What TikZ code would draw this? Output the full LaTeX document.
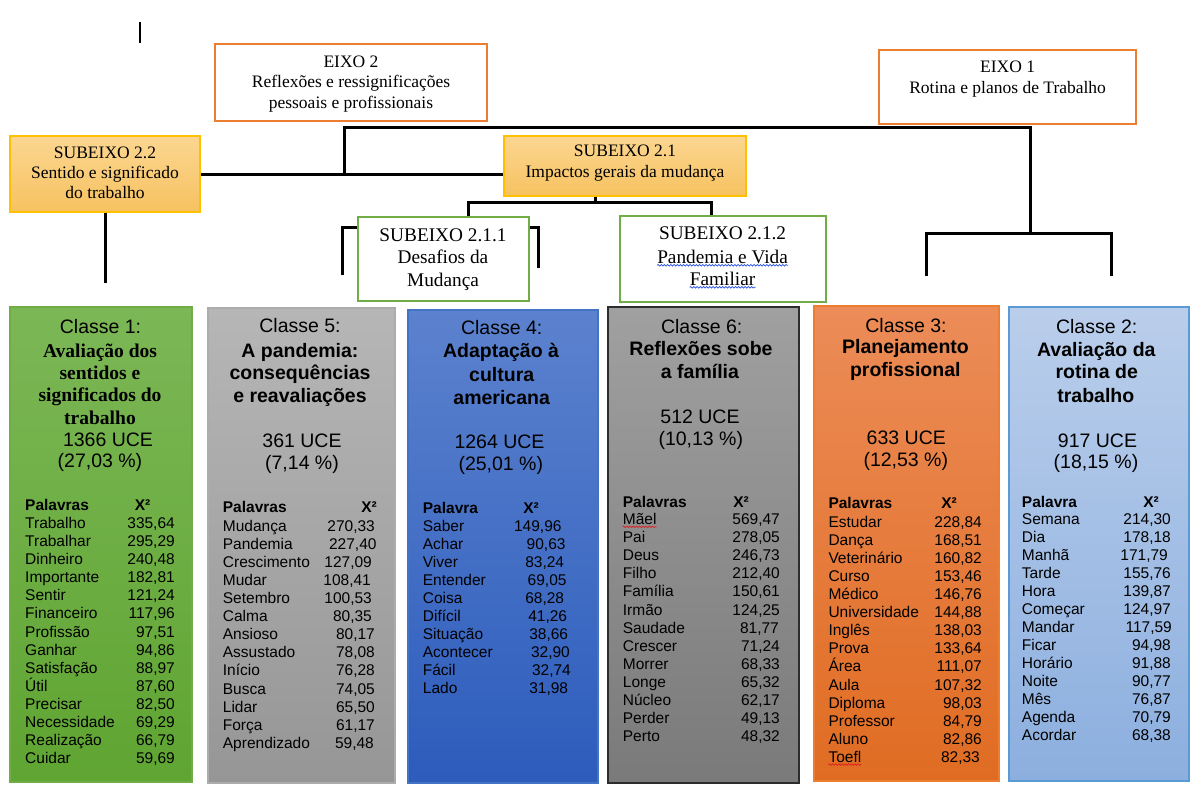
\documentclass[tikz,border=0pt]{standalone}
\usepackage{fontspec}
\setmainfont{Liberation Serif}
\setsansfont{Liberation Sans}
\usetikzlibrary{decorations.pathmorphing}

\definecolor{axisorange}{RGB}{237,125,49}
\definecolor{subgold}{RGB}{255,192,0}
\definecolor{subtop}{RGB}{251,214,145}
\definecolor{subbot}{RGB}{247,194,96}
\definecolor{leafgreen}{RGB}{112,173,71}
\definecolor{gTop}{RGB}{124,183,86}
\definecolor{gBot}{RGB}{95,165,50}
\definecolor{gEdge}{RGB}{112,173,71}
\definecolor{sTop}{RGB}{182,182,182}
\definecolor{sBot}{RGB}{150,150,150}
\definecolor{sEdge}{RGB}{172,172,172}
\definecolor{bTop}{RGB}{92,130,206}
\definecolor{bBot}{RGB}{44,92,188}
\definecolor{bEdge}{RGB}{68,114,196}
\definecolor{dTop}{RGB}{160,160,160}
\definecolor{dBot}{RGB}{122,122,122}
\definecolor{dEdge}{RGB}{45,45,45}
\definecolor{oTop}{RGB}{236,140,88}
\definecolor{oBot}{RGB}{224,108,34}
\definecolor{oEdge}{RGB}{237,125,49}
\definecolor{lTop}{RGB}{186,206,235}
\definecolor{lBot}{RGB}{140,175,223}
\definecolor{lEdge}{RGB}{91,155,213}
\definecolor{spellred}{RGB}{220,30,30}
\definecolor{spellblue}{RGB}{40,80,230}

% one table row per item: word / chi-square value / right edge of the value
\newcommand\wordrows[5]{%
  \foreach \ww/\vv/\rr [count=\ii] in {#5}{%
    \node[word] (#1w\ii) at (#2,{#3+#4*(\ii-1)}) {\ww};
    \node[num] (#1v\ii) at (\rr,{#3+#4*(\ii-1)}) {\vv};
  }}

\begin{document}
\begin{tikzpicture}[x=1pt,y=-1pt,
  tree/.style={line width=3pt, line join=miter},
  axisbox/.style={draw=axisorange, line width=1.2pt, fill=white, inner sep=0},
  subbox/.style={draw=subgold, line width=1.2pt, top color=subtop, bottom color=subbot, inner sep=0},
  leafbox/.style={draw=leafgreen, line width=1.3pt, fill=white, inner sep=0},
  toptext/.style={font=\rmfamily\fontsize{17.5}{20.5}\selectfont, align=center, inner sep=0},
  leaftext/.style={font=\rmfamily\fontsize{19.3}{22.5}\selectfont, align=center, inner sep=0},
  classbox/.style={line width=1.2pt, inner sep=0},
  chead/.style={font=\sffamily\fontsize{19.5}{22}\selectfont, anchor=base, inner sep=0},
  ctitle/.style={font=\sffamily\bfseries\fontsize{19.5}{22}\selectfont, anchor=base, inner sep=0},
  stitle/.style={font=\rmfamily\bfseries\fontsize{19.5}{22}\selectfont, anchor=base, inner sep=0},
  word/.style={font=\sffamily\fontsize{15.5}{18}\selectfont, anchor=base west, inner sep=0},
  num/.style={font=\sffamily\fontsize{15.5}{18}\selectfont, anchor=base east, inner sep=0},
  colhead/.style={font=\sffamily\bfseries\fontsize{15.5}{18}\selectfont, anchor=base west, inner sep=0},
  chihead/.style={font=\sffamily\bfseries\fontsize{15.5}{18}\selectfont, anchor=base, inner sep=0},
  spell/.style={decorate, decoration={snake, amplitude=0.8pt, segment length=3.2pt}, line width=0.7pt}]

\useasboundingbox (0,0) rectangle (1191,790);
\fill[white] (0,0) rectangle (1191,790);

% text cursor mark
\draw[line width=1.4pt] (140,22) -- (140,43);

% ---------- axes and sub-axes ----------
\node[axisbox, minimum width=272pt, minimum height=77pt] (eixo2) at (351,82.5) {};
\node[toptext] (eixo2t) at (351,84) {EIXO 2\\Reflexões e ressignificações\\pessoais e profissionais};

\node[axisbox, minimum width=257pt, minimum height=74pt] (eixo1) at (1007.5,87) {};
\node[toptext, font=\rmfamily\fontsize{17.5}{21}\selectfont] (eixo1t) at (1007.6,79.5) {EIXO 1\\Rotina e planos de Trabalho};

\node[subbox, minimum width=190pt, minimum height=76pt] (s22) at (105,174) {};
\node[toptext, font=\rmfamily\fontsize{17.5}{20}\selectfont] (s22t) at (105,173) {SUBEIXO 2.2\\Sentido e significado\\do trabalho};

\node[subbox, minimum width=242pt, minimum height=60pt] (s21) at (625,166) {};
\node[toptext, font=\rmfamily\fontsize{17.5}{21}\selectfont] (s21t) at (625,163.5) {SUBEIXO 2.1\\Impactos gerais da mudança};

\node[leafbox, minimum width=171pt, minimum height=84pt] (s211) at (443.5,259) {};
\node[leaftext] (s211t) at (443,259.5) {SUBEIXO 2.1.1\\Desafios da\\Mudança};

\node[leafbox, minimum width=206pt, minimum height=86pt] (s212) at (723,259) {};
\node[leaftext, anchor=base] (s212a) at (722.6,239.5) {SUBEIXO 2.1.2};
\node[leaftext, anchor=base] (s212b) at (722.6,263.5) {Pandemia e Vida};
\node[leaftext, anchor=base] (s212c) at (722.6,285.5) {Familiar};
\draw[spell, spellblue] ([yshift=-1.8pt]s212b.base west) -- ([yshift=-1.8pt]s212b.base east);
\draw[spell, spellblue] ([yshift=-1.8pt]s212c.base west) -- ([yshift=-1.8pt]s212c.base east);

% ---------- tree connectors ----------
\coordinate (e2j) at (344,127);
\coordinate (e1j) at (1030,127);
\coordinate (e1k) at (1030,233);
\coordinate (c3k) at (926,233);
\coordinate (c3e) at (926,276);
\coordinate (c2k) at (1111,233);
\coordinate (c2e) at (1111,276);
\coordinate (s21j) at (595,202);
\coordinate (b1) at (468,202);
\coordinate (b2) at (711,202);
\coordinate (blt) at (342,227);
\coordinate (ble) at (342,275);
\coordinate (brt) at (538,227);
\coordinate (bre) at (538,268);
\coordinate (c1e) at (105,283);

\draw[tree] (e2j |- s22.east) -- (e2j) -- (e1j) -- (e1k);
\draw[tree] (c3e) -- (c3k) -- (c2k) -- (c2e);
\draw[tree] (s22.east) -- (s22.east -| s21.west);
\draw[tree] (s21j |- s21.south) -- (s21j);
\draw[tree] (b1 |- s211.north) -- (b1) -- (b2) -- (b2 |- s212.north);
\draw[tree] (ble) -- (blt) -- (blt -| s211.west);
\draw[tree] (blt -| s211.east) -- (brt) -- (bre);
\draw[tree] (s22.south) -- (c1e);

% ---------- class boxes ----------
\node[classbox, draw=gEdge, top color=gTop, bottom color=gBot, minimum width=182pt, minimum height=475pt] (c1) at (101,544.5) {};
\node[classbox, draw=sEdge, top color=sTop, bottom color=sBot, minimum width=187pt, minimum height=475pt] (c5) at (301.5,545.5) {};
\node[classbox, draw=bEdge, top color=bTop, bottom color=bBot, minimum width=190pt, minimum height=473pt] (c4) at (503,546.5) {};
\node[classbox, draw=dEdge, line width=1.5pt, top color=dTop, bottom color=dBot, minimum width=191pt, minimum height=476pt] (c6) at (703.5,545) {};
\node[classbox, draw=oEdge, top color=oTop, bottom color=oBot, minimum width=185pt, minimum height=475pt] (c3) at (906.5,543.5) {};
\node[classbox, draw=lEdge, top color=lTop, bottom color=lBot, minimum width=180pt, minimum height=474pt] (c2) at (1099,544) {};

% Classe 1
\node[chead] (c1h) at (100.5,333) {Classe 1:};
\node[stitle] (c1t1) at (100,357) {Avaliação dos};
\node[stitle] (c1t2) at (100,379) {sentidos e};
\node[stitle] (c1t3) at (100,401) {significados do};
\node[stitle] (c1t4) at (100,424) {trabalho};
\node[chead] (c1n) at (108,446) {1366 UCE};
\node[chead] (c1p) at (100,467.5) {(27,03 \%)};
\node[colhead] (c1k) at (25,510.6) {Palavras};
\node[chihead] (c1x) at (142.5,510.6) {X²};
\wordrows{c1}{25}{528.3}{18.12}{Trabalho/335{,}64/175, Trabalhar/295{,}29/175, Dinheiro/240{,}48/175, Importante/182{,}81/175, Sentir/121{,}24/175, Financeiro/117{,}96/175, Profissão/97{,}51/175, Ganhar/94{,}86/175, Satisfação/88{,}97/175, Útil/87{,}60/175, Precisar/82{,}50/175, Necessidade/69{,}29/175, Realização/66{,}79/175, Cuidar/59{,}69/175}

% Classe 5
\node[chead] (c5h) at (300,332.5) {Classe 5:};
\node[ctitle] (c5t1) at (300,357) {A pandemia:};
\node[ctitle] (c5t2) at (300,379.5) {consequências};
\node[ctitle] (c5t3) at (300,402) {e reavaliações};
\node[chead] (c5n) at (302,447) {361 UCE};
\node[chead] (c5p) at (302,469) {(7,14 \%)};
\node[colhead] (c5k) at (222.7,512.3) {Palavras};
\node[chihead] (c5x) at (369,512.3) {X²};
\wordrows{c5}{222.7}{531.3}{18.08}{Mudança/270{,}33/375, Pandemia/227{,}40/376.7, Crescimento/127{,}09/372, Mudar/108{,}41/371, Setembro/100{,}53/372, Calma/80{,}35/372, Ansioso/80{,}17/375, Assustado/78{,}08/375, Início/76{,}28/375, Busca/74{,}05/375, Lidar/65{,}50/375, Força/61{,}17/375, Aprendizado/59{,}48/374}

% Classe 4
\node[chead] (c4h) at (501.7,334.3) {Classe 4:};
\node[ctitle] (c4t1) at (501,357.5) {Adaptação à};
\node[ctitle] (c4t2) at (501.7,381) {cultura};
\node[ctitle] (c4t3) at (501.7,404) {americana};
\node[chead] (c4n) at (499.5,448.7) {1264 UCE};
\node[chead] (c4p) at (500.8,470) {(25,01 \%)};
\node[colhead] (c4k) at (422.7,513.9) {Palavra};
\node[chihead] (c4x) at (531,513.9) {X²};
\wordrows{c4}{422.7}{531.6}{17.97}{Saber/149{,}96/561.7, Achar/90{,}63/565.7, Viver/83{,}24/564.3, Entender/69{,}05/566.7, Coisa/68{,}28/564.3, Difícil/41{,}26/567.3, Situação/38{,}66/568.3, Acontecer/32{,}90/570, Fácil/32{,}74/571, Lado/31{,}98/568.3}

% Classe 6
\node[chead] (c6h) at (701.7,333) {Classe 6:};
\node[ctitle] (c6t1) at (701,355.3) {Reflexões sobe};
\node[ctitle] (c6t2) at (700,378) {a família};
\node[chead] (c6n) at (700,423.7) {512 UCE};
\node[chead] (c6p) at (700.8,445) {(10,13 \%)};
\node[colhead] (c6k) at (622.7,507.3) {Palavras};
\node[chihead] (c6x) at (741,507.3) {X²};
\wordrows{c6}{622.7}{524.6}{18.08}{Mãel/569{,}47/780, Pai/278{,}05/780, Deus/246{,}73/780, Filho/212{,}40/780, Família/150{,}61/780, Irmão/124{,}25/780, Saudade/81{,}77/779, Crescer/71{,}24/780, Morrer/68{,}33/780, Longe/65{,}32/780, Núcleo/62{,}17/780, Perder/49{,}13/780, Perto/48{,}32/780}
\draw[spell, spellred] ([yshift=-2.2pt]c6w1.base west) -- ([yshift=-2.2pt]c6w1.base east);

% Classe 3
\node[chead] (c3h) at (906,332) {Classe 3:};
\node[ctitle] (c3t1) at (905.5,353.5) {Planejamento};
\node[ctitle] (c3t2) at (905.3,376.5) {profissional};
\node[chead] (c3n) at (906.3,444.3) {633 UCE};
\node[chead] (c3p) at (905.8,466) {(12,53 \%)};
\node[colhead] (c3k) at (828.3,508.9) {Palavras};
\node[chihead] (c3x) at (949,508.9) {X²};
\wordrows{c3}{828.3}{527.3}{18.08}{Estudar/228{,}84/982, Dança/168{,}51/982, Veterinário/160{,}82/982, Curso/153{,}46/982, Médico/146{,}76/982, Universidade/144{,}88/982, Inglês/138{,}03/982, Prova/133{,}64/982, Área/111{,}07/982, Aula/107{,}32/982, Diploma/98{,}03/982, Professor/84{,}79/982, Aluno/82{,}86/982, Toefl/82{,}33/980}
\draw[spell, spellred] ([yshift=-2.2pt]c3w14.base west) -- ([yshift=-2.2pt]c3w14.base east);

% Classe 2
\node[chead] (c2h) at (1096.7,333) {Classe 2:};
\node[ctitle] (c2t1) at (1096.3,356) {Avaliação da};
\node[ctitle] (c2t2) at (1096.7,378.7) {rotina de};
\node[ctitle] (c2t3) at (1095.8,402) {trabalho};
\node[chead] (c2n) at (1097.5,447) {917 UCE};
\node[chead] (c2p) at (1096,468.5) {(18,15 \%)};
\node[colhead] (c2k) at (1021.7,507.3) {Palavra};
\node[chihead] (c2x) at (1151,507.3) {X²};
\wordrows{c2}{1021.7}{524.9}{17.97}{Semana/214{,}30/1171, Dia/178{,}18/1171, Manhã/171{,}79/1168, Tarde/155{,}76/1171, Hora/139{,}87/1171, Começar/124{,}97/1171, Mandar/117{,}59/1172, Ficar/94{,}98/1171, Horário/91{,}88/1171, Noite/90{,}77/1171, Mês/76{,}87/1171, Agenda/70{,}79/1171, Acordar/68{,}38/1171}

\end{tikzpicture}
\end{document}
